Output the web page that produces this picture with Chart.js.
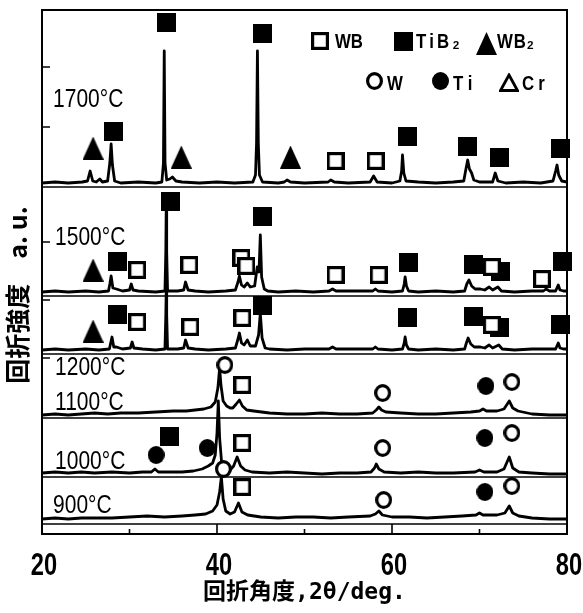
<!DOCTYPE html>
<html>
<head>
<meta charset="utf-8">
<script src="https://cdn.jsdelivr.net/npm/chart.js@4.4.1/dist/chart.umd.min.js"></script>
<style>
  html, body { margin: 0; padding: 0; background: #fff; }
  #wrap { width: 583px; height: 613px; }
</style>
</head>
<body>
<div id="wrap"><canvas id="xrd" width="583" height="613"></canvas></div>
<script>
// --- axis ticks ---
const xTicks = [20, 40, 60, 80];
const xMinorTicks = [30, 50, 70];
const yTickValues = [467, 407, 292, 234, 176];

// --- one pattern per sintering temperature, top to bottom ---
const temps = ['1700°C', '1500°C', '1200°C', '1100°C', '1000°C', '900°C'];
const offsets = [351, 242, 184, 121, 61, 17];      // baseline of each pattern (a.u.)
const panelLines = [347, 238, 180, 116, 57, 10];   // frame line under each pattern

// [2θ, intensity above own baseline]
const p1700 = [[20,0],[21.5,1],[23,0],[24.6,1],[25.2,2],[25.5,12],[25.8,2],[26.2,1],[26.6,4],[26.9,1],[27.5,2],[27.75,20],[27.9,39],[28.05,18],[28.3,2],[29,0],[31,1],[33,0],[33.7,1],[33.88,20],[33.97,132],[34.06,20],[34.25,3],[34.6,4],[34.9,6],[35.3,2],[36,1],[38,0],[40,1],[42,0],[44.1,1],[44.4,8],[44.52,40],[44.62,132],[44.72,40],[44.85,8],[45.2,1],[47,0],[47.7,1],[48.0,3],[48.4,1],[50,0],[52.7,1],[53.0,3],[53.4,1],[55,0],[57.5,1],[57.9,7],[58.3,1],[60,0],[60.9,2],[61.1,12],[61.2,28],[61.35,10],[61.6,2],[63,1],[65,0],[67,1],[68.2,2],[68.45,14],[68.65,23],[68.85,14],[69.1,10],[69.35,3],[70,1],[71.5,1],[71.8,10],[72.1,2],[73,0],[75,1],[77,0],[78.4,2],[78.7,12],[78.86,18],[79.05,8],[79.4,2],[80,1]];
const p1500 = [[20,0],[21.5,1],[23,0],[25,1],[26.5,0],[27.6,1],[27.75,8],[27.9,16],[28.1,4],[28.5,3],[29.2,1],[30.0,2],[30.2,8],[30.4,2],[31,1],[33,0],[34.05,1],[34.15,40],[34.2,89],[34.25,40],[34.35,1],[35.5,1],[36.2,2],[36.4,10],[36.7,2],[37.5,1],[39,0],[41,1],[42.1,2],[42.4,10],[42.56,16],[42.8,7],[43.1,5],[43.47,9],[43.8,5],[44.3,6],[44.6,25],[44.8,20],[44.95,57],[45.1,15],[45.4,3],[45.8,1],[47,0],[49,1],[51,0],[52.8,1],[53.2,3],[53.6,1],[55.5,1],[57.8,1],[58.1,3],[58.4,1],[60,0],[61.2,1],[61.4,8],[61.5,15],[61.65,6],[61.9,1],[63,0],[65,1],[67,0],[68.3,1],[68.55,8],[68.8,12],[69.1,6],[69.5,3],[70.1,3],[70.6,2],[71.1,5],[71.5,2],[72.1,5],[72.5,1],[74,0],[76,1],[77.3,1],[77.6,3],[78,1],[78.7,1],[78.9,5],[79.0,7],[79.2,2],[79.6,1],[80,1]];
const p1200 = [[20,0],[21.5,1],[23,0],[25,1],[26.5,0],[27.7,1],[27.85,7],[28.0,13],[28.2,3],[28.5,3],[29.2,1],[30.1,2],[30.3,8],[30.5,2],[31.5,1],[33,0],[34.05,1],[34.15,35],[34.2,62],[34.25,35],[34.35,1],[35.5,1],[36.2,2],[36.4,10],[36.7,2],[37.5,1],[39,0],[41,1],[42.1,2],[42.4,11],[42.56,17],[42.8,7],[43.1,5],[43.47,10],[43.8,4],[44.4,4],[44.75,15],[44.95,37],[45.15,12],[45.5,2],[46,1],[48,0],[50,1],[52.8,1],[53.2,3],[53.6,1],[55.5,1],[57.8,1],[58.1,3],[58.4,1],[60,0],[61.2,1],[61.4,7],[61.5,13],[61.65,5],[61.9,1],[63,0],[65,1],[67,0],[68.3,1],[68.5,7],[68.7,12],[69.0,6],[69.4,3],[70.1,3],[70.6,2],[71.1,5],[71.5,2],[72.2,5],[72.6,1],[74,0],[76,1],[78.7,1],[78.9,5],[79.0,7],[79.2,2],[79.6,1],[80,1]];
const p1100 = [[20,-2],[21.5,-1],[23,-2],[24.5,-1],[26,0],[27.5,-1],[29,0],[31,0],[33,1],[35,2],[36.5,2],[37.5,3],[38.5,4],[39.3,6],[39.8,11],[40.1,25],[40.3,45],[40.45,28],[40.7,12],[41.1,7],[41.5,5],[41.8,5],[42.2,9],[42.56,13],[42.9,7],[43.4,3],[44.2,2],[46,0],[48,-1],[50,-1],[52,0],[54,-1],[56,-1],[57.8,0],[58.2,3],[58.5,6],[58.8,3],[59.3,1],[61,0],[63,-1],[65,-1],[67,0],[69,1],[70.0,2],[70.4,4],[70.8,2],[72,2],[72.8,4],[73.4,12],[73.8,5],[74.4,2],[76,-1],[78,-2],[80,-2]];
const p1000 = [[20,0],[21.5,1],[23,0],[24.5,1],[26,0],[28,1],[30,0],[31.5,1],[32.5,1],[32.9,4],[33.3,1],[34.5,1],[36,1],[37.3,2],[38.3,4],[39.0,7],[39.5,10],[39.8,18],[40.0,40],[40.15,72],[40.3,35],[40.55,8],[40.9,2],[41.4,2],[41.9,7],[42.3,16],[42.7,7],[43.2,3],[44,1],[46,0],[48,1],[50,0],[52,-1],[54,0],[56,0],[57.6,1],[58.0,5],[58.2,9],[58.5,4],[59.1,1],[61,0],[63,1],[65,0],[67,0],[69.5,1],[70.0,3],[70.5,1],[72,1],[72.8,4],[73.4,16],[73.8,5],[74.5,1],[76,0],[78,-1],[80,-1]];
const p900 = [[20,-2],[21.5,-1],[23,-2],[24.5,-1],[26,-1],[28,-1],[30,0],[32,1],[34,0],[36,1],[37.5,2],[38.7,3],[39.5,6],[40.0,12],[40.3,25],[40.5,40],[40.7,18],[41.0,6],[41.5,3],[42.0,5],[42.45,14],[42.85,5],[43.5,2],[45,0],[47,-1],[49,0],[51,0],[53,-1],[55,0],[57.5,1],[58.1,3],[58.5,6],[58.9,2],[60,0],[62,0],[64,-1],[66,0],[68,1],[69.6,2],[70.0,4],[70.4,2],[72,2],[72.9,4],[73.4,11],[73.8,4],[74.5,1],[76,-1],[78,-2],[80,-2]];
const patterns = [p1700, p1500, p1200, p1100, p1000, p900];

// --- phase identification marks [2θ, a.u.] ---
const markWB   = [[53.55,373],[58.13,373],[30.88,264],[36.83,269],[42.79,276],[43.36,268],[53.55,259],[58.47,259],[71.41,267],[77.14,255],[30.88,212],[36.95,207],[42.9,216],[71.41,209],[42.9,149],[42.9,91],[42.9,47]];
const markTiB2 = [[28.13,403],[34.2,512],[45.19,501],[61.79,398],[68.66,388],[72.33,377],[79.2,386],[28.59,273],[34.66,333],[45.19,318],[61.91,272],[69.35,270],[72.44,263],[79.43,273],[28.59,220],[45.19,229],[61.79,217],[69.35,218],[72.33,207],[79.2,210],[34.54,98]];
const markWB2  = [[25.84,386],[35.92,377],[48.4,377],[25.84,264],[25.84,203]];
const markW    = [[40.9,169],[58.93,141],[73.7,152],[58.93,86],[73.7,101],[40.73,65],[59.05,34],[73.7,48]];
const markTi   = [[70.73,148],[33.05,79],[38.89,86],[70.61,96],[70.61,42]];

const legendItems = [
  { label: 'WB', kind: 'sqOpen', spacing: 0 }, { label: 'TiB₂', kind: 'sqFill', spacing: 4 }, { label: 'WB₂', kind: 'triFill', spacing: 1 },
  { label: 'W', kind: 'cirOpen', spacing: 0 }, { label: 'Ti', kind: 'cirFill', spacing: 6 }, { label: 'Cr', kind: 'triOpen', spacing: 5 }
];
// marker centre x, marker centre y, text left, text baseline (px)
const legendPos = [[320,41,335,48],[403,41,416,48],[486,43,497,48],[374,81,387,90],[440,81,453,90],[509,82,522,90]];
const tempLabelAt = [[21.26,427],[21.49,289],[21.49,159],[21.49,124],[21.49,65],[21.26,21]];

const SANS = "'Liberation Sans', Arial, sans-serif";
const CJK = "'Noto Sans CJK JP', 'Noto Sans', sans-serif";

// little bitmaps so the marks match the scanned symbols
function markerCanvas(kind) {
  const dims = { sqOpen: [18, 18], sqFill: [19, 19], triFill: [21, 23], triOpen: [20, 19], cirOpen: [17, 18], cirFill: [17, 18] }[kind];
  const c = document.createElement('canvas');
  c.width = dims[0]; c.height = dims[1];
  const g = c.getContext('2d');
  const w = c.width, h = c.height;
  g.fillStyle = '#000'; g.strokeStyle = '#000';
  if (kind === 'sqFill') g.fillRect(0, 0, w, h);
  if (kind === 'sqOpen') {
    g.fillStyle = '#fff'; g.fillRect(0, 0, w, h);
    g.lineWidth = 3.2; g.strokeRect(1.6, 1.6, w - 3.2, h - 3.2);
  }
  if (kind === 'triFill') {
    g.beginPath(); g.moveTo(w / 2, 0); g.lineTo(w, h); g.lineTo(0, h); g.closePath(); g.fill();
  }
  if (kind === 'triOpen') {
    g.beginPath(); g.moveTo(w / 2, 2); g.lineTo(w - 1.5, h - 1.5); g.lineTo(1.5, h - 1.5); g.closePath();
    g.fillStyle = '#fff'; g.fill(); g.lineWidth = 2.8; g.lineJoin = 'miter'; g.stroke();
  }
  if (kind === 'cirOpen') {
    g.beginPath(); g.ellipse(w / 2, h / 2, w / 2 - 1.6, h / 2 - 1.6, 0, 0, Math.PI * 2);
    g.fillStyle = '#fff'; g.fill(); g.lineWidth = 3.2; g.stroke();
  }
  if (kind === 'cirFill') {
    g.beginPath(); g.ellipse(w / 2, h / 2, w / 2, h / 2, 0, 0, Math.PI * 2); g.fill();
  }
  return c;
}
const marks = {};
['sqOpen', 'sqFill', 'triFill', 'triOpen', 'cirOpen', 'cirFill'].forEach(k => { marks[k] = markerCanvas(k); });

const toXY = arr => arr.map(p => ({ x: p[0], y: p[1] }));

const datasets = [];
patterns.forEach((pat, i) => {
  datasets.push({
    type: 'line', label: temps[i],
    data: pat.map(p => ({ x: p[0], y: p[1] + offsets[i] })),
    borderColor: '#000', borderWidth: 2.8, pointRadius: 0, tension: 0,
    borderJoinStyle: 'round', fill: false, order: 5
  });
});
panelLines.forEach(v => {
  datasets.push({
    type: 'line', data: [{ x: 20, y: v }, { x: 80, y: v }],
    borderColor: '#000', borderWidth: 1.4, pointRadius: 0, fill: false, order: 6
  });
});
function markSet(points, kind, order) {
  return { type: 'scatter', data: toXY(points), pointStyle: marks[kind], pointRadius: 10, clip: false, order: order };
}
datasets.push(markSet(markTiB2, 'sqFill', 3));
datasets.push(markSet(markWB2, 'triFill', 3));
datasets.push(markSet(markTi, 'cirFill', 3));
datasets.push(markSet(markWB, 'sqOpen', 1));
datasets.push(markSet(markW, 'cirOpen', 1));

// condensed text: the scan uses a narrow face, so squeeze Liberation Sans
function narrowText(ctx, text, x, y, font, sx, align, spacing) {
  ctx.save();
  ctx.font = font;
  ctx.letterSpacing = (spacing || 0) + 'px';
  ctx.textAlign = align || 'left';
  ctx.textBaseline = 'alphabetic';
  ctx.translate(x, y);
  ctx.scale(sx, 1);
  ctx.fillText(text, 0, 0);
  ctx.restore();
}

const decor = {
  id: 'decor',
  afterDatasetsDraw(chart) {
    const { ctx, chartArea: a, scales: { x, y } } = chart;
    ctx.save();
    ctx.strokeStyle = '#000';
    ctx.fillStyle = '#000';
    ctx.lineWidth = 2;
    ctx.strokeRect(a.left, a.top, a.right - a.left, a.bottom - a.top);

    // inward ticks
    ctx.lineWidth = 1.6;
    ctx.beginPath();
    xTicks.concat(xMinorTicks).forEach(v => {
      const px = x.getPixelForValue(v);
      const len = xMinorTicks.includes(v) ? 5 : 10;
      ctx.moveTo(px, a.bottom); ctx.lineTo(px, a.bottom - len);
    });
    yTickValues.forEach(v => {
      const py = y.getPixelForValue(v);
      ctx.moveTo(a.left, py); ctx.lineTo(a.left + 8, py);
    });
    ctx.stroke();

    // x tick labels
    xTicks.forEach(v => {
      narrowText(ctx, String(v), x.getPixelForValue(v) + 2, 575, 'bold 32px ' + SANS, 0.74, 'center');
    });

    // temperature labels
    temps.forEach((t, i) => {
      narrowText(ctx, t, x.getPixelForValue(tempLabelAt[i][0]), y.getPixelForValue(tempLabelAt[i][1]), '25px ' + SANS, 0.84, 'left');
    });

    // legend
    legendItems.forEach((it, i) => {
      const [mx, my, tx, ty] = legendPos[i];
      const m = marks[it.kind];
      ctx.drawImage(m, Math.round(mx - m.width / 2), Math.round(my - m.height / 2));
      narrowText(ctx, it.label, tx, ty, 'bold 21px ' + SANS, 0.8, 'left', it.spacing);
    });

    // y axis title
    ctx.translate(17, 295);
    ctx.rotate(-Math.PI / 2);
    ctx.textAlign = 'center';
    ctx.textBaseline = 'middle';
    ctx.font = 'bold 25px ' + CJK;
    ctx.fillText('回折強度　a. u.', 0, 0);
    ctx.restore();
  }
};

new Chart(document.getElementById('xrd'), {
  type: 'scatter',
  data: { datasets: datasets },
  options: {
    responsive: false,
    animation: false,
    events: [],
    layout: { padding: { left: 42, right: 16, top: 10, bottom: 0 }, autoPadding: false },
    plugins: { legend: { display: false }, tooltip: { enabled: false } },
    scales: {
      x: {
        type: 'linear', min: 20, max: 80,
        grid: { display: false },
        border: { display: false },
        afterBuildTicks: s => { s.ticks = xTicks.map(v => ({ value: v })); },
        afterFit: s => { s.height = 79; },
        ticks: { display: false },
        title: {
          display: true, text: '回折角度,2θ/deg.', color: '#000',
          font: { family: "'DejaVu Sans Mono', 'Noto Sans CJK JP', monospace", size: 23, weight: 'bold' },
          padding: { top: 0, bottom: 6 }
        }
      },
      y: { type: 'linear', min: 0, max: 524, display: false }
    }
  },
  plugins: [decor]
});
</script>
</body>
</html>
